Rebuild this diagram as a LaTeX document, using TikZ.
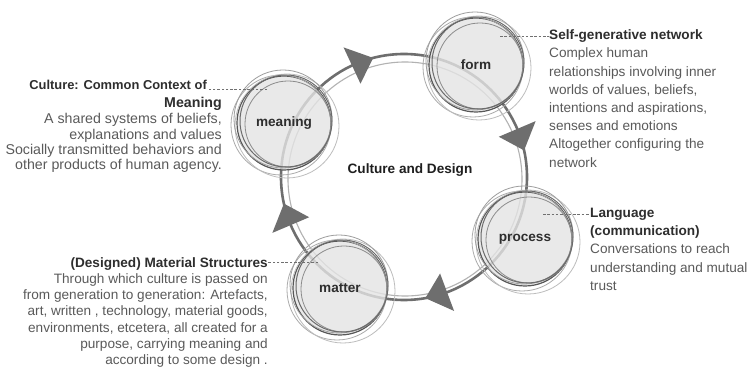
\documentclass[tikz,border=0pt]{standalone}
\usepackage{fontspec}
\setmainfont{Liberation Sans}
\definecolor{ringdark}{HTML}{6E6E6E}
\definecolor{ringlight}{HTML}{B2B2B2}
\definecolor{discfill}{HTML}{E4E4E4}
\definecolor{discedge}{HTML}{585858}
\definecolor{headtext}{HTML}{2E2E2E}
\definecolor{bodytext}{HTML}{5A5A5A}
\definecolor{leadergray}{HTML}{707070}
\newcommand{\headfmt}[1]{{\bfseries\color{headtext}#1}}
% loose hand-drawn outlines around a disc node
\newcommand{\discsketch}[1]{%
  \draw[sketch,draw=black!33] ([shift={(-3,2)}]#1.center) circle[radius=50pt];
  \draw[sketch,draw=black!26] ([shift={(3,3)}]#1.center) circle[radius=52pt];
  \draw[sketch,draw=black!38] ([shift={(-1,-4)}]#1.center) circle[radius=49pt];
  \draw[sketch,draw=black!45] ([shift={(4,1)}]#1.center) circle[radius=43pt];
  \draw[sketch,draw=black!58,line width=1pt] ([shift={(2,-2)}]#1.center) circle[radius=46pt];
}
% triangular pointer sitting on the cycle, base radial, tip clockwise
\newcommand{\ringpointer}[1]{%
  \fill[pointer] ([shift={(#1:143)}]hub) -- ([shift={({#1+10.5}:123)}]hub) -- ([shift={(#1:103)}]hub) -- cycle;
}
\begin{document}
\begin{tikzpicture}[x=1pt,y=-1pt,
  ringmain/.style={draw=ringdark,line width=2.6pt},
  ringtrace/.style={draw=ringlight,line width=1.1pt},
  pointer/.style={fill=ringdark},
  disc/.style={circle,minimum size=94pt,inner sep=0pt,fill=discfill,fill opacity=0.8,
    text opacity=1,draw=discedge,line width=1.2pt,text=headtext,
    font=\fontsize{13.6}{16}\selectfont\bfseries},
  sketch/.style={line width=0.8pt},
  leaderline/.style={draw=leadergray,line width=0.8pt,dash pattern=on 2.5pt off 1.8pt},
  note/.style={inner sep=0pt,text=bodytext},
  titletext/.style={inner sep=0pt,text=black!88,font=\fontsize{13.6}{16}\selectfont\bfseries},
]
\useasboundingbox (0,0) rectangle (753,379);
\fill[white] (0,0) rectangle (753,379);

% the cycle
\coordinate (hub) at (404,177);
\draw[ringmain] (hub) circle[radius=123pt];
\draw[ringtrace] ([shift={(1,2)}]hub) circle[radius=117pt];

% the four stages
\node[disc] (meaning) at (284,123) {meaning};
\node[disc] (form) at (476,65) {form};
\node[disc] (process) at (525,239) {process};
\node[disc] (matter) at (340,288) {matter};
\discsketch{meaning}
\discsketch{form}
\discsketch{process}
\discsketch{matter}

% direction pointers
\ringpointer{-115}
\ringpointer{-23}
\ringpointer{69.5}
\ringpointer{157}

\node[titletext] (title) at (410,170) {Culture and Design};

% annotations
\node[note,anchor=north west,align=left,font=\fontsize{13.6}{18.2}\selectfont]
  (formnote) at (549,29.6) {\headfmt{Self-generative network}\\
  Complex human\\ relationships involving inner\\ worlds of values, beliefs,\\
  intentions and aspirations,\\ senses and emotions\\ Altogether configuring the\\ network};

\node[note,anchor=north west,align=left,font=\fontsize{13.6}{18.3}\selectfont]
  (processnote) at (590,207.6) {\headfmt{Language}\\ \headfmt{(communication)}\\
  Conversations to reach\\ understanding and mutual\\ trust};

\node[note,anchor=north east,text=headtext,font=\fontsize{12.9}{16}\selectfont\bfseries]
  (meaninghead) at (207,80) {Culture: Common Context of};
\node[note,anchor=north east,align=right,font=\fontsize{14.2}{15.3}\selectfont]
  (meaningnote) at (222,97.4) {\headfmt{Meaning}\\[0.7pt]
  A shared systems of beliefs,\\ explanations and values\\
  Socially transmitted behaviors and\\ other products of human agency.};

\node[note,anchor=north east,align=right,font=\fontsize{13.6}{16.1}\selectfont]
  (matternote) at (268,257.6) {\headfmt{(Designed) Material Structures}\\
  Through which culture is passed on\\ from generation to generation: Artefacts,\\
  art, written , technology, material goods,\\ environments, etcetera, all created for a\\
  purpose, carrying meaning and\\ according to some design .};

% leaders from the stages to their notes
\coordinate (formtap) at (500,36);
\coordinate (processtap) at (543,214);
\coordinate (meaningtap) at (267,89);
\coordinate (mattertap) at (318,262);
\draw[leaderline] (formtap) -- (formtap -| formnote.west);
\draw[leaderline] (processtap) -- (processtap -| processnote.west);
\draw[leaderline] (meaningtap) -- (meaningtap -| meaninghead.east);
\draw[leaderline] (mattertap) -- (mattertap -| matternote.east);
\end{tikzpicture}
\end{document}
